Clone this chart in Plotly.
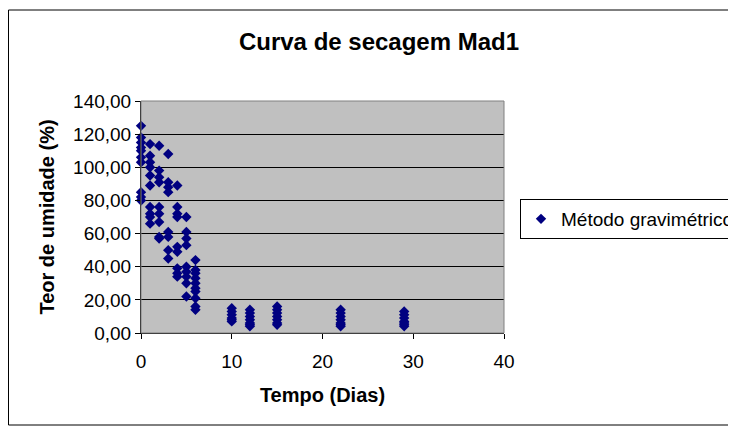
import plotly.graph_objs as go

# tempo (dias) e teor de umidade (%)
dias = [0] * 10 + [1] * 10 + [2] * 9 + [3] * 8 + [4] * 9 + [5] * 9 + [6] * 10 \
    + [10] * 6 + [12] * 7 + [15] * 7 + [22] * 7 + [29] * 7

umidade = [
    125, 118, 115, 112, 110, 106, 103, 85, 82, 80,
    114, 107, 103, 100, 95, 89, 76, 72, 70, 66,
    113, 98, 94, 91, 76, 72, 67, 58, 57,
    108, 91, 88, 85, 61, 58, 50, 45,
    89, 76, 72, 70, 52, 49, 39, 36, 34,
    70, 61, 57, 53, 40, 37, 34, 30, 22,
    44, 38, 36, 33, 30, 27, 25, 21, 16, 14,
    15, 13, 11, 9, 8, 7,
    14, 12, 10, 8, 6, 5, 4,
    16, 14, 12, 10, 8, 6, 5,
    14, 12, 10, 8, 6, 5, 4,
    13, 11, 9, 7, 6, 5, 4,
]

FONT = 'Arial, "Liberation Sans", sans-serif'

# area de plotagem em pixels da figura (a pagina desloca tudo 8px)
L, T, W, H = 133, 93, 363, 232

data = []
trace = go.Scatter(
    name='Método gravimétrico',
    x=dias,
    y=umidade,
    mode='markers',
    cliponaxis=False,
    marker=dict(symbol='diamond', size=8, color='#000080'),
)
data.append(trace)

layout = go.Layout(
    width=736,
    height=430,
    separators=',.',
    paper_bgcolor='white',
    plot_bgcolor='#C0C0C0',
    font=dict(family=FONT, size=19, color='black'),
    margin=dict(l=L, r=736 - L - W, t=T, b=430 - T - H, autoexpand=False),
    title=dict(
        text='<b>Curva de secagem Mad1</b>',
        font=dict(size=24),
        x=371 / 736, xanchor='center',
        y=1 - 34 / 430, yanchor='middle',
    ),
    showlegend=True,
    legend=dict(
        xref='container', yref='container',
        x=512 / 736, xanchor='left',
        y=1 - 191 / 430, yanchor='top',
        bordercolor='black', borderwidth=1,
        bgcolor='white',
        font=dict(size=19),
        itemwidth=30,
    ),
    xaxis=dict(
        range=[0, 40],
        dtick=10,
        showgrid=False,
        zeroline=False,
        showline=True, linecolor='black', linewidth=1,
        ticks='outside', ticklen=5, tickcolor='black',
        ticklabelstandoff=6,
        title=dict(text='<b>Tempo (Dias)</b>', font=dict(size=20), standoff=17),
    ),
    yaxis=dict(
        range=[0, 140],
        dtick=20,
        tickformat='.2f',
        showgrid=True, gridcolor='black', gridwidth=1,
        zeroline=False,
        showline=True, linecolor='black', linewidth=1,
        ticks='outside', ticklen=5, tickcolor='black',
        title=dict(text='<b>Teor de umidade (%)</b>', font=dict(size=20), standoff=13),
    ),
    shapes=[
        # borda do grafico
        dict(type='rect', xref='paper', yref='paper',
             x0=(0.5 - L) / W, x1=(760 - L) / W,
             y0=(T + H - 417) / H, y1=(T + H - 2) / H,
             line=dict(color='black', width=1), layer='below'),
        # borda da area de plotagem
        dict(type='rect', xref='paper', yref='paper',
             x0=0, x1=1, y0=0, y1=1,
             line=dict(color='#808080', width=1), layer='above'),
    ],
)

fig = go.Figure(data=data, layout=layout)
fig.write_html("out.html")
